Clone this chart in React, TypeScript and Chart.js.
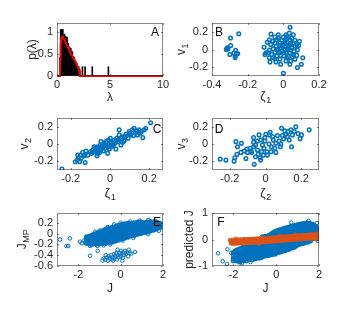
import React, { useEffect, useRef } from 'react';
import { Chart, registerables } from 'chart.js';
Chart.register(...registerables);

const W = 352;
const H = 317;
const BLUE = '#0072BD';
const ORANGE = '#D95319';
const AXIS = '#262626';
const FONT = "'Liberation Sans', Arial, 'DejaVu Sans', sans-serif";
const TICK_SIZE = 11;
const TITLE_SIZE = 12;
const SUB_SIZE = 9;

// ---------- Panel A: eigenvalue histogram + Marchenko-Pastur curve ----------
const histBins = [0.30, 0.35, 0.40, 0.45, 0.50, 0.55, 0.60, 0.65, 0.70, 0.75, 0.80, 0.85, 0.90, 0.95, 1.00, 1.05, 1.10, 1.15, 1.20, 1.25, 1.30, 1.35, 1.40, 1.45, 1.50, 1.55, 1.60, 1.65, 1.70, 1.75, 1.80, 1.85, 1.90, 1.95, 2.00, 2.05, 2.10, 2.15, 2.40, 2.65, 3.33, 4.85];
const histDensity = [0.42, 1.05, 1.05, 0.84, 1.05, 1.05, 0.84, 0.84, 0.95, 0.84, 0.90, 0.84, 0.84, 0.88, 0.74, 0.74, 0.63, 0.66, 0.63, 0.63, 0.63, 0.55, 0.55, 0.55, 0.42, 0.44, 0.42, 0.36, 0.36, 0.32, 0.29, 0.29, 0.21, 0.21, 0.21, 0.21, 0.16, 0.14, 0.21, 0.21, 0.21, 0.21];
const mpLambda = [0, 0.28, 0.30, 0.35, 0.40, 0.50, 0.60, 0.80, 1.00, 1.20, 1.50, 1.80, 2.00, 2.10, 2.16, 10];
const mpDensity = [0, 0, 0.40, 0.72, 0.83, 0.89, 0.86, 0.77, 0.67, 0.56, 0.43, 0.30, 0.19, 0.10, 0, 0];
const aXTicks = [0, 5, 10];
const aYTicks = [0, 0.5, 1];

// ---------- Panel B: v1 vs zeta1 ----------
const bPoints: [number, number][] = [
  [-0.25, 0.178], [-0.296, 0.13], [-0.295, 0.045], [-0.315, 0.02], [-0.32, 0.0], [-0.31, 0.008], [-0.268, -0.008], [-0.277, -0.04], [-0.256, -0.045], [-0.3, -0.057], [-0.27, -0.072], [-0.27, -0.09], [-0.262, -0.05],
  [-0.069, 0.174], [-0.028, 0.167], [0.0, 0.14], [0.038, 0.252], [0.034, 0.185], [0.015, 0.167], [0.056, 0.167], [0.047, 0.13], [0.01, 0.111], [-0.037, 0.111], [-0.06, 0.093], [-0.078, 0.111], [-0.09, 0.081], [-0.108, 0.026], [-0.071, 0.056], [-0.047, 0.074], [-0.019, 0.074], [0.0, 0.056], [0.022, 0.081], [0.041, 0.074], [0.065, 0.104], [0.09, 0.093], [0.086, 0.044], [0.065, 0.037], [0.047, 0.019], [0.028, 0.03], [0.01, 0.0], [-0.015, 0.019], [-0.037, 0.0], [-0.056, 0.007], [-0.078, -0.007], [-0.097, -0.037], [-0.065, -0.056], [-0.047, -0.03], [-0.022, -0.037], [0.0, -0.037], [0.019, -0.03], [0.037, -0.037], [0.06, -0.019], [0.079, -0.007], [0.004, -0.074], [0.028, -0.081], [0.052, -0.081], [0.075, -0.067], [-0.078, -0.093], [-0.047, -0.104], [-0.019, -0.111], [0.015, -0.13], [0.041, -0.13], [-0.075, -0.141], [-0.041, -0.141], [-0.015, -0.167], [0.037, -0.167], [0.109, -0.093], [0.101, -0.167], [0.079, -0.204], [0.0, -0.27], [-0.028, 0.13], [-0.047, 0.141], [0.019, 0.119], [0.037, 0.104], [-0.009, 0.104], [0.01, 0.074], [0.034, 0.044], [0.015, 0.037], [-0.004, 0.037], [-0.022, 0.044], [-0.041, 0.037], [-0.028, -0.007], [-0.009, -0.019], [0.022, -0.007], [0.041, -0.007], [0.056, -0.056], [-0.015, -0.067], [-0.037, -0.074], [-0.056, -0.093], [0.019, -0.093], [0.065, -0.111], [-0.084, -0.037], [-0.103, -0.056], [0.056, 0.074], [0.075, 0.056], [0.022, 0.148],
];
const bXTicks = [-0.4, -0.2, 0, 0.2];
const bYTicks = [-0.2, 0, 0.2];

// ---------- Panel C: v2 vs zeta1 ----------
const cPoints: [number, number][] = [
  [-0.245, -0.29], [-0.167, -0.186], [-0.16, -0.155], [-0.147, -0.163], [-0.15, -0.128], [-0.13, -0.136], [-0.122, -0.081], [-0.127, -0.12], [-0.139, -0.097], [-0.113, -0.128], [-0.127, -0.213], [-0.083, -0.089], [-0.076, -0.05], [-0.066, -0.081], [-0.063, -0.031], [-0.066, -0.136], [-0.049, -0.012], [-0.037, -0.043], [-0.046, -0.07], [-0.029, -0.004], [-0.02, 0.027], [-0.012, -0.031], [-0.008, 0.047], [-0.034, -0.081], [0.005, 0.008], [-0.003, -0.058], [0.018, -0.012], [0.022, 0.047], [0.047, 0.105], [0.047, 0.163], [0.03, -0.058], [0.039, 0.027], [0.056, 0.066], [0.064, 0.019], [0.072, 0.085], [0.081, 0.112], [0.092, 0.066], [0.098, 0.143], [0.114, 0.163], [0.12, 0.097], [0.136, 0.151], [0.14, 0.105], [0.16, 0.143], [0.167, 0.074], [0.174, 0.163], [0.182, 0.182], [0.207, 0.245], [0.123, 0.182], [-0.046, 0.027], [-0.054, -0.097], [-0.093, -0.108], [-0.088, -0.07], [-0.025, -0.05], [0.008, -0.031], [-0.012, -0.108], [0.025, 0.008], [0.035, 0.066], [0.072, 0.035], [0.106, 0.105], [0.148, 0.163], [0.153, 0.124], [-0.063, -0.108], [-0.081, -0.031], [0.002, 0.066], [0.056, -0.012], [-0.155, -0.205], [-0.177, -0.205], [-0.164, -0.128],
  [-0.07, -0.06], [-0.055, -0.045], [-0.04, -0.02], [-0.02, -0.02], [0.0, 0.02], [0.01, -0.01], [0.03, 0.04], [0.045, 0.05], [0.06, 0.08], [0.08, 0.09], [0.1, 0.12], [0.13, 0.13], [-0.1, -0.09], [-0.03, 0.01],
];
const cXTicks = [-0.2, 0, 0.2];
const cYTicks = [-0.2, 0, 0.2];

// ---------- Panel D: v3 vs zeta2 ----------
const dPoints: [number, number][] = [
  [-0.254, -0.174], [-0.222, -0.186], [-0.176, -0.198], [-0.172, -0.159], [-0.16, -0.12], [-0.166, 0.027], [-0.157, -0.031], [-0.135, 0.008], [-0.138, -0.097], [-0.11, -0.167], [-0.119, -0.081], [-0.105, -0.058], [-0.086, -0.05], [-0.078, -0.097], [-0.067, -0.031], [-0.063, -0.233], [-0.067, 0.019], [-0.067, 0.074], [-0.045, 0.035], [-0.036, 0.105], [-0.045, -0.07], [-0.041, -0.12], [-0.03, -0.159], [-0.022, -0.089], [-0.017, -0.012], [-0.008, -0.05], [-0.004, 0.035], [0.002, 0.112], [-0.011, -0.128], [0.008, -0.089], [0.026, 0.136], [0.022, 0.105], [0.02, 0.0], [0.033, -0.031], [0.044, 0.047], [0.052, -0.05], [0.058, 0.008], [0.077, 0.035], [0.083, -0.031], [0.09, 0.182], [0.101, 0.058], [0.108, 0.151], [0.114, 0.112], [0.123, 0.085], [0.142, 0.163], [0.146, -0.031], [0.151, 0.105], [0.161, 0.143], [0.17, 0.198], [0.183, 0.12], [0.194, 0.062], [0.202, 0.105], [0.245, 0.163], [-0.101, -0.097], [-0.056, -0.012], [-0.027, 0.047], [0.039, 0.085], [0.067, 0.097], [0.095, 0.097], [0.127, 0.143], [0.03, -0.089], [0.058, -0.097], [0.011, -0.128], [-0.027, -0.186], [-0.056, -0.147], [-0.082, -0.081], [0.133, 0.047], [0.086, 0.0], [-0.004, 0.074],
];
const dXTicks = [-0.2, 0, 0.2];
const dYTicks = [-0.2, 0, 0.2];

// ---------- Panel E: J_MP vs J ----------
const eMainColumns: [number, number[]][] = [
  [-1.6, [-0.18, -0.13, -0.085, -0.06]],
  [-1.525, [-0.16, -0.12, -0.075]],
  [-1.45, [-0.19, -0.14, -0.1, -0.05]],
  [-1.375, [-0.17, -0.125, -0.08, -0.04]],
  [-1.3, [-0.19, -0.145, -0.1, -0.055, -0.02]],
  [-1.225, [-0.17, -0.12, -0.075, -0.03]],
  [-1.15, [-0.19, -0.14, -0.095, -0.05, 0.0]],
  [-1.075, [-0.17, -0.12, -0.075, -0.03, 0.015]],
  [-1.0, [-0.19, -0.145, -0.1, -0.055, -0.01, 0.03]],
  [-0.925, [-0.165, -0.12, -0.075, -0.03, 0.015]],
  [-0.85, [-0.185, -0.14, -0.095, -0.05, -0.005, 0.04]],
  [-0.775, [-0.16, -0.115, -0.07, -0.025, 0.02, 0.06]],
  [-0.7, [-0.18, -0.135, -0.09, -0.045, 0.0, 0.045, 0.08]],
  [-0.625, [-0.15, -0.105, -0.06, -0.015, 0.03, 0.075]],
  [-0.55, [-0.165, -0.12, -0.075, -0.03, 0.015, 0.06, 0.095]],
  [-0.475, [-0.14, -0.095, -0.05, -0.005, 0.04, 0.085]],
  [-0.4, [-0.155, -0.11, -0.065, -0.02, 0.025, 0.07, 0.115]],
  [-0.325, [-0.125, -0.08, -0.035, 0.01, 0.055, 0.1]],
  [-0.25, [-0.14, -0.095, -0.05, -0.005, 0.04, 0.085, 0.13]],
  [-0.175, [-0.11, -0.065, -0.02, 0.025, 0.07, 0.115]],
  [-0.1, [-0.12, -0.075, -0.03, 0.015, 0.06, 0.105, 0.15]],
  [-0.025, [-0.09, -0.045, 0.0, 0.045, 0.09, 0.135]],
  [0.05, [-0.1, -0.055, -0.01, 0.035, 0.08, 0.125, 0.165]],
  [0.125, [-0.075, -0.03, 0.015, 0.06, 0.105, 0.15]],
  [0.2, [-0.08, -0.035, 0.01, 0.055, 0.1, 0.145, 0.18]],
  [0.275, [-0.055, -0.01, 0.035, 0.08, 0.125, 0.165]],
  [0.35, [-0.065, -0.02, 0.025, 0.07, 0.115, 0.16, 0.19]],
  [0.425, [-0.04, 0.005, 0.05, 0.095, 0.14, 0.18]],
  [0.5, [-0.04, 0.005, 0.05, 0.095, 0.14, 0.185]],
  [0.575, [-0.02, 0.025, 0.07, 0.115, 0.16]],
  [0.65, [-0.03, 0.015, 0.06, 0.105, 0.15, 0.2]],
  [0.725, [-0.005, 0.04, 0.085, 0.13, 0.175]],
  [0.8, [-0.01, 0.035, 0.08, 0.125, 0.17, 0.205]],
  [0.875, [0.01, 0.055, 0.1, 0.145, 0.19]],
  [0.95, [0.0, 0.045, 0.09, 0.135, 0.18, 0.21]],
  [1.025, [0.025, 0.07, 0.115, 0.16, 0.2]],
  [1.1, [0.02, 0.065, 0.11, 0.155, 0.2]],
  [1.175, [0.04, 0.085, 0.13, 0.175]],
  [1.25, [0.03, 0.075, 0.12, 0.165, 0.21]],
  [1.325, [0.055, 0.1, 0.145, 0.19]],
  [1.4, [0.05, 0.095, 0.14, 0.185, 0.22]],
  [1.475, [0.07, 0.115, 0.16, 0.2]],
  [1.55, [0.065, 0.11, 0.155, 0.2]],
  [1.625, [0.09, 0.13, 0.17]],
  [1.7, [0.085, 0.13, 0.175, 0.21]],
  [1.775, [0.11, 0.15, 0.19]],
  [1.85, [0.11, 0.15, 0.19]],
];
const eScatter: [number, number][] = [
  [-2.86, -0.11], [-2.39, -0.09], [-2.55, -0.23], [-2.47, -0.23], [-1.91, -0.15], [-1.83, -0.18], [-1.72, -0.13], [-1.68, -0.17], [-1.52, -0.055], [-1.44, -0.23], [-1.38, -0.21], [-1.2, 0.03], [-0.95, 0.06], [-0.6, 0.12], [-0.3, 0.17], [0.0, 0.2], [0.45, 0.22], [0.9, 0.24], [1.3, 0.25], [1.6, 0.24], [1.95, 0.17], [1.95, 0.12], [1.8, 0.05], [1.3, -0.01], [0.6, -0.08], [0.1, -0.13], [-0.5, -0.2], [-1.1, -0.23], [-0.8, -0.22],
];
const eLowCluster: [number, number][] = [
  [-0.85, -0.5], [-0.8, -0.46], [-0.72, -0.48], [-0.65, -0.44], [-0.6, -0.5], [-0.55, -0.42], [-0.5, -0.46], [-0.45, -0.4], [-0.42, -0.48], [-0.38, -0.44], [-0.3, -0.38], [-0.28, -0.46], [-0.25, -0.42], [-0.2, -0.36], [-0.18, -0.48], [-0.12, -0.4], [-0.1, -0.44], [-0.05, -0.36], [0.0, -0.42], [0.02, -0.32], [0.05, -0.38], [0.1, -0.45], [0.12, -0.35], [0.15, -0.4], [0.2, -0.32], [0.25, -0.38], [0.3, -0.34], [0.35, -0.42], [0.38, -0.3], [0.42, -0.36], [0.5, -0.37], [0.68, -0.34], [-1.08, -0.32], [-1.44, -0.41], [-0.7, -0.4], [-0.35, -0.5], [0.08, -0.5], [-0.15, -0.3],
];
const eXTicks = [-2, 0, 2];
const eYTicks = [-0.6, -0.4, -0.2, 0, 0.2];

// ---------- Panel F: predicted J vs J ----------
const fBlueColumns: [number, number[]][] = [
  [-2.0, [-0.5, -0.6, -0.7, -0.8]],
  [-1.925, [-0.45, -0.55, -0.65, -0.75]],
  [-1.85, [-0.4, -0.5, -0.6, -0.7, -0.8]],
  [-1.775, [-0.4, -0.5, -0.6, -0.7, -0.8]],
  [-1.7, [-0.35, -0.45, -0.55, -0.65, -0.75, -0.85]],
  [-1.625, [-0.35, -0.45, -0.55, -0.65, -0.75]],
  [-1.55, [-0.3, -0.4, -0.5, -0.6, -0.7, -0.8]],
  [-1.475, [-0.25, -0.35, -0.45, -0.55, -0.65, -0.75]],
  [-1.4, [-0.2, -0.3, -0.4, -0.5, -0.6, -0.7, -0.8]],
  [-1.325, [-0.2, -0.3, -0.4, -0.5, -0.6, -0.7]],
  [-1.25, [-0.15, -0.25, -0.35, -0.45, -0.55, -0.65, -0.75]],
  [-1.175, [-0.2, -0.3, -0.4, -0.5, -0.6, -0.7]],
  [-1.1, [-0.15, -0.25, -0.35, -0.45, -0.55, -0.65, -0.75]],
  [-1.025, [-0.2, -0.3, -0.4, -0.5, -0.6, -0.7]],
  [-0.95, [-0.15, -0.25, -0.35, -0.45, -0.55, -0.65, -0.72]],
  [-0.875, [-0.2, -0.3, -0.4, -0.5, -0.6, -0.68]],
  [-0.8, [-0.15, -0.25, -0.35, -0.45, -0.55, -0.65, -0.7]],
  [-0.725, [-0.1, -0.2, -0.3, -0.4, -0.5, -0.6, -0.68]],
  [-0.65, [0.1, -0.15, -0.25, -0.35, -0.45, -0.55, -0.65]],
  [-0.575, [0.08, -0.1, -0.2, -0.3, -0.4, -0.5, -0.6]],
  [-0.5, [0.12, -0.12, -0.22, -0.32, -0.42, -0.52, -0.62]],
  [-0.425, [0.12, -0.17, -0.27, -0.37, -0.47, -0.57]],
  [-0.35, [0.15, 0.1, -0.12, -0.22, -0.32, -0.42, -0.52, -0.6]],
  [-0.275, [0.18, 0.09, -0.17, -0.27, -0.37, -0.47, -0.55]],
  [-0.2, [0.22, 0.12, -0.1, -0.2, -0.3, -0.4, -0.5, -0.57]],
  [-0.125, [0.26, 0.16, -0.05, -0.15, -0.25, -0.35, -0.45, -0.53]],
  [-0.05, [0.3, 0.2, 0.11, -0.1, -0.2, -0.3, -0.4, -0.5, -0.55]],
  [0.025, [0.32, 0.22, 0.13, -0.13, -0.23, -0.33, -0.43, -0.5]],
  [0.1, [0.35, 0.25, 0.15, -0.08, -0.18, -0.28, -0.38, -0.48]],
  [0.175, [0.36, 0.26, 0.16, -0.11, -0.21, -0.31, -0.41, -0.47]],
  [0.25, [0.38, 0.28, 0.18, -0.06, -0.16, -0.26, -0.36, -0.45]],
  [0.325, [0.4, 0.3, 0.2, -0.1, -0.2, -0.3, -0.4]],
  [0.4, [0.42, 0.32, 0.22, 0.15, -0.05, -0.15, -0.25, -0.35, -0.42]],
  [0.475, [0.44, 0.34, 0.24, -0.08, -0.18, -0.28, -0.38]],
  [0.55, [0.45, 0.35, 0.25, 0.17, -0.03, -0.13, -0.23, -0.33, -0.38]],
  [0.625, [0.47, 0.37, 0.27, 0.19, -0.07, -0.17, -0.27, -0.35]],
  [0.7, [0.5, 0.4, 0.3, 0.2, -0.02, -0.12, -0.22, -0.32]],
  [0.775, [0.5, 0.4, 0.3, 0.21, -0.05, -0.15, -0.25, -0.3]],
  [0.85, [0.52, 0.42, 0.32, 0.22, 0.0, -0.1, -0.2, -0.28]],
  [0.925, [0.53, 0.43, 0.33, 0.24, -0.05, -0.15, -0.24]],
  [1.0, [0.55, 0.45, 0.35, 0.25, 0.0, -0.1, -0.2]],
  [1.075, [0.56, 0.46, 0.36, 0.27, -0.03, -0.13, -0.18]],
  [1.15, [0.58, 0.48, 0.38, 0.28, 0.02, -0.08, -0.16]],
  [1.225, [0.59, 0.49, 0.39, 0.29, -0.02, -0.1, -0.15]],
  [1.3, [0.6, 0.5, 0.4, 0.3, 0.03, -0.07, -0.13]],
  [1.375, [0.6, 0.5, 0.4, 0.31, -0.01, -0.08]],
  [1.45, [0.62, 0.52, 0.42, 0.32, 0.05, -0.05, -0.1]],
  [1.525, [0.6, 0.5, 0.4, 0.31, 0.0, -0.07]],
  [1.6, [0.6, 0.5, 0.4, 0.3, 0.05, -0.05]],
  [1.675, [0.57, 0.47, 0.37, 0.28, 0.02]],
  [1.75, [0.55, 0.45, 0.35, 0.27, 0.05]],
  [1.825, [0.5, 0.4, 0.3, 0.04]],
  [1.9, [0.45, 0.35, 0.26, 0.05]],
];
const fBlueScatter: [number, number][] = [
  [-2.72, -0.52], [-2.5, -0.82], [-2.3, -0.92], [-2.28, -0.37], [-2.1, -0.5], [0.7, 0.64], [1.9, 0.62], [1.5, 0.7], [-1.6, -0.9], [-1.2, -0.85], [1.95, -0.05],
];
const fOrangeColumns: [number, number[]][] = [
  [-2.1, [-0.12, -0.06]],
  [-2.025, [-0.11, -0.05]],
  [-1.95, [-0.14, -0.08, -0.02]],
  [-1.875, [-0.105, -0.045]],
  [-1.8, [-0.135, -0.075, -0.015]],
  [-1.725, [-0.1, -0.04]],
  [-1.65, [-0.13, -0.07, -0.01]],
  [-1.575, [-0.095, -0.035]],
  [-1.5, [-0.125, -0.065, -0.005]],
  [-1.425, [-0.09, -0.03]],
  [-1.35, [-0.12, -0.06, 0.0]],
  [-1.275, [-0.085, -0.025]],
  [-1.2, [-0.11, -0.05, 0.01]],
  [-1.125, [-0.08, -0.02]],
  [-1.05, [-0.105, -0.045, 0.015]],
  [-0.975, [-0.07, -0.01]],
  [-0.9, [-0.1, -0.04, 0.02]],
  [-0.825, [-0.065, -0.005]],
  [-0.75, [-0.09, -0.03, 0.03]],
  [-0.675, [-0.055, 0.005]],
  [-0.6, [-0.085, -0.025, 0.035]],
  [-0.525, [-0.05, 0.01]],
  [-0.45, [-0.075, -0.015, 0.045]],
  [-0.375, [-0.045, 0.015]],
  [-0.3, [-0.07, -0.01, 0.05]],
  [-0.225, [-0.035, 0.025]],
  [-0.15, [-0.06, 0.0, 0.06]],
  [-0.075, [-0.025, 0.035]],
  [0.0, [-0.05, 0.01, 0.07]],
  [0.075, [-0.015, 0.045]],
  [0.15, [-0.04, 0.02, 0.08]],
  [0.225, [-0.005, 0.055]],
  [0.3, [-0.03, 0.03, 0.09]],
  [0.375, [0.005, 0.065]],
  [0.45, [-0.02, 0.04, 0.1]],
  [0.525, [0.015, 0.075]],
  [0.6, [-0.01, 0.05, 0.11]],
  [0.675, [0.025, 0.085]],
  [0.75, [0.0, 0.06, 0.12]],
  [0.825, [0.035, 0.095]],
  [0.9, [0.01, 0.07, 0.13]],
  [0.975, [0.045, 0.105]],
  [1.05, [0.02, 0.08, 0.14]],
  [1.125, [0.055, 0.115]],
  [1.2, [0.03, 0.09, 0.15]],
  [1.275, [0.065, 0.125]],
  [1.35, [0.04, 0.1, 0.16]],
  [1.425, [0.075, 0.135]],
  [1.5, [0.05, 0.11, 0.17]],
  [1.575, [0.08, 0.14]],
  [1.65, [0.055, 0.115, 0.175]],
  [1.725, [0.085, 0.145]],
  [1.8, [0.06, 0.12, 0.18]],
  [1.875, [0.095, 0.155]],
  [1.95, [0.07, 0.13, 0.19]],
];
const fOrangeScatter: [number, number][] = [
  [-2.15, -0.02], [-2.05, -0.16], [-1.9, 0.03], [1.95, 0.24], [1.85, 0.02], [0.2, 0.13], [-0.8, -0.15], [0.9, 0.18],
];
const fXTicks = [-2, 0, 2];
const fYTicks = [-1, 0, 1];

// ---------- helpers ----------
const toXY = (pts: [number, number][]) => pts.map(([x, y]) => ({ x, y }));
const colsToXY = (cols: [number, number[]][]) => {
  const out: { x: number; y: number }[] = [];
  for (const [x, ys] of cols) for (const y of ys) out.push({ x, y });
  return out;
};

const ringStyle = (color: string, r: number, bw: number) => ({
  type: 'scatter',
  pointStyle: 'circle',
  pointRadius: r,
  radius: r,
  pointBorderWidth: bw,
  borderWidth: bw,
  borderColor: color,
  backgroundColor: 'rgba(0,0,0,0)',
  pointBackgroundColor: 'rgba(0,0,0,0)',
  pointBorderColor: color,
  showLine: false,
});

interface PanelSpec {
  type: 'bar' | 'scatter';
  box: [number, number, number, number];
  yTitleX: number;
  xTitleY: number;
  xRange: [number, number];
  yRange: [number, number];
  xTicks: number[];
  yTicks: number[];
  xTitle: string; // "main_sub" notation for a subscript
  yTitle: string;
  letter: string;
  letterAt: [number, number];
  datasets: any[];
}

const panels: PanelSpec[] = [
  {
    type: 'bar', box: [57, 23, 163, 76], yTitleX: 33, xTitleY: 98,
    xRange: [0, 10], yRange: [0, 1.2], xTicks: aXTicks, yTicks: aYTicks,
    xTitle: 'λ', yTitle: 'p(λ)', letter: 'A', letterAt: [155, 33],
    datasets: [
      {
        type: 'line', data: mpLambda.map((x, i) => ({ x, y: mpDensity[i] })),
        borderColor: '#FF0000', borderWidth: 2, pointRadius: 0, tension: 0, fill: false, clip: false,
      },
      {
        type: 'bar', data: histBins.map((x, i) => ({ x, y: histDensity[i] })),
        backgroundColor: '#000000', borderWidth: 0, barThickness: 1,
      },
    ],
  },
  {
    type: 'scatter', box: [212, 23, 319, 76], yTitleX: 182, xTitleY: 97,
    xRange: [-0.4, 0.2], yRange: [-0.3, 0.3], xTicks: bXTicks, yTicks: bYTicks,
    xTitle: 'ζ_1', yTitle: 'v_1', letter: 'B', letterAt: [219, 33],
    datasets: [{ ...ringStyle(BLUE, 1.8, 1.5), data: toXY(bPoints) }],
  },
  {
    type: 'scatter', box: [57, 118, 163, 170], yTitleX: 25, xTitleY: 194,
    xRange: [-0.27, 0.27], yRange: [-0.3, 0.3], xTicks: cXTicks, yTicks: cYTicks,
    xTitle: 'ζ_1', yTitle: 'v_2', letter: 'C', letterAt: [157, 130],
    datasets: [{ ...ringStyle(BLUE, 1.8, 1.5), data: toXY(cPoints) }],
  },
  {
    type: 'scatter', box: [212, 118, 319, 170], yTitleX: 182, xTitleY: 194,
    xRange: [-0.3, 0.3], yRange: [-0.3, 0.3], xTicks: dXTicks, yTicks: dYTicks,
    xTitle: 'ζ_2', yTitle: 'v_3', letter: 'D', letterAt: [219, 130],
    datasets: [{ ...ringStyle(BLUE, 1.8, 1.5), data: toXY(dPoints) }],
  },
  {
    type: 'scatter', box: [57, 213, 163, 266], yTitleX: 23, xTitleY: 289,
    xRange: [-3, 2], yRange: [-0.6, 0.38], xTicks: eXTicks, yTicks: eYTicks,
    xTitle: 'J', yTitle: 'J_MP', letter: 'E', letterAt: [157, 223],
    datasets: [
      { ...ringStyle(BLUE, 1.8, 1.6), data: colsToXY(eMainColumns) },
      { ...ringStyle(BLUE, 1.8, 1), data: [...toXY(eScatter), ...toXY(eLowCluster)] },
    ],
  },
  {
    type: 'scatter', box: [212, 213, 319, 266], yTitleX: 190, xTitleY: 289,
    xRange: [-3, 2], yRange: [-1, 1], xTicks: fXTicks, yTicks: fYTicks,
    xTitle: 'J', yTitle: 'predicted J', letter: 'F', letterAt: [221, 223],
    datasets: [
      { ...ringStyle(ORANGE, 1.8, 1.6), data: colsToXY(fOrangeColumns) },
      { ...ringStyle(ORANGE, 1.8, 1), data: toXY(fOrangeScatter) },
      { ...ringStyle(BLUE, 1.8, 1.6), data: colsToXY(fBlueColumns) },
      { ...ringStyle(BLUE, 1.8, 1), data: toXY(fBlueScatter) },
    ],
  },
];

// Draw a title with an optional subscript ("main_sub"), centred at (x, y).
function drawRichTitle(ctx: CanvasRenderingContext2D, text: string, x: number, y: number, vertical: boolean) {
  const [main, sub] = text.split('_');
  const mainFont = `${TITLE_SIZE}px ${FONT}`;
  const subFont = `${SUB_SIZE}px ${FONT}`;
  ctx.save();
  ctx.translate(x, y);
  if (vertical) ctx.rotate(-Math.PI / 2);
  ctx.fillStyle = AXIS;
  ctx.textBaseline = 'middle';
  ctx.textAlign = 'left';
  ctx.font = mainFont;
  const wMain = ctx.measureText(main).width;
  let wSub = 0;
  if (sub) {
    ctx.font = subFont;
    wSub = ctx.measureText(sub).width;
  }
  const start = -(wMain + wSub) / 2;
  ctx.font = mainFont;
  ctx.fillText(main, start, 0);
  if (sub) {
    ctx.font = subFont;
    ctx.fillText(sub, start + wMain + 0.5, 3.5);
  }
  ctx.restore();
}

function framePlugin(p: PanelSpec) {
  return {
    id: 'frame' + p.letter,
    afterDraw(chart: any) {
      const { ctx, chartArea: a, scales } = chart;
      ctx.save();
      ctx.strokeStyle = 'rgba(38,38,38,0.55)';
      ctx.lineWidth = 1;
      ctx.strokeRect(Math.round(a.left) + 0.5, Math.round(a.top) + 0.5, Math.round(a.right - a.left) - 1, Math.round(a.bottom - a.top) - 1);
      const tl = 2;
      ctx.beginPath();
      for (const v of p.xTicks) {
        const px = Math.round(scales.x.getPixelForValue(v)) + 0.5;
        ctx.moveTo(px, a.bottom); ctx.lineTo(px, a.bottom - tl);
        ctx.moveTo(px, a.top); ctx.lineTo(px, a.top + tl);
      }
      for (const v of p.yTicks) {
        const py = Math.round(scales.y.getPixelForValue(v)) + 0.5;
        ctx.moveTo(a.left, py); ctx.lineTo(a.left + tl, py);
        ctx.moveTo(a.right, py); ctx.lineTo(a.right - tl, py);
      }
      ctx.stroke();
      ctx.fillStyle = '#000000';
      ctx.font = `${TITLE_SIZE}px ${FONT}`;
      ctx.textAlign = 'center';
      ctx.textBaseline = 'middle';
      ctx.fillText(p.letter, p.letterAt[0], p.letterAt[1]);
      ctx.restore();
      drawRichTitle(ctx, p.xTitle, (a.left + a.right) / 2, p.xTitleY, false);
      drawRichTitle(ctx, p.yTitle, p.yTitleX, (a.top + a.bottom) / 2, true);
    },
  };
}

function buildConfig(p: PanelSpec): any {
  const [l, t, r, b] = p.box;
  const lh = TITLE_SIZE * 1.2;
  const yAxisW = l - p.yTitleX + lh / 2;
  const xAxisH = p.xTitleY - b + lh / 2;
  const tickFont = { family: FONT, size: TICK_SIZE };
  return {
    type: p.type,
    data: { datasets: p.datasets },
    options: {
      animation: false,
      responsive: false,
      devicePixelRatio: 1,
      events: [],
      elements: { point: { radius: 1.8, borderWidth: 1.5 } },
      layout: { padding: { left: l - yAxisW, top: t, right: W - r, bottom: H - b - xAxisH } },
      plugins: { legend: { display: false }, tooltip: { enabled: false } },
      scales: {
        x: {
          type: 'linear', position: 'bottom', min: p.xRange[0], max: p.xRange[1], offset: false,
          grid: { display: false, drawTicks: false, offset: false }, border: { display: false },
          afterBuildTicks: (s: any) => { s.ticks = p.xTicks.map((v) => ({ value: v })); },
          afterFit: (s: any) => { s.height = xAxisH; s.paddingLeft = 0; s.paddingRight = 0; s.paddingTop = 0; s.paddingBottom = 0; },
          ticks: { padding: 2, color: AXIS, font: tickFont, maxRotation: 0, autoSkip: false, callback: (v: number) => String(v) },
          title: { display: false },
        },
        y: {
          type: 'linear', position: 'left', min: p.yRange[0], max: p.yRange[1], beginAtZero: false,
          grid: { display: false, drawTicks: false }, border: { display: false },
          afterBuildTicks: (s: any) => { s.ticks = p.yTicks.map((v) => ({ value: v })); },
          afterFit: (s: any) => { s.width = yAxisW; s.paddingLeft = 0; s.paddingRight = 0; s.paddingTop = 0; s.paddingBottom = 0; },
          ticks: { padding: 4, color: AXIS, font: tickFont, autoSkip: false, callback: (v: number) => String(v) },
          title: { display: false },
        },
      },
    },
    plugins: [framePlugin(p)],
  };
}

function PanelCanvas({ spec }: { spec: PanelSpec }) {
  const ref = useRef<HTMLCanvasElement>(null);
  useEffect(() => {
    if (!ref.current) return;
    const chart = new Chart(ref.current, buildConfig(spec));
    return () => chart.destroy();
  }, [spec]);
  return (
    <canvas
      ref={ref}
      width={W}
      height={H}
      style={{ position: 'absolute', left: 0, top: 0, width: W, height: H }}
    />
  );
}

export default function App() {
  return (
    <div style={{ position: 'fixed', left: 0, top: 0, width: W, height: H, background: '#ffffff', overflow: 'hidden' }}>
      {panels.map((p) => (
        <PanelCanvas key={p.letter} spec={p} />
      ))}
    </div>
  );
}
